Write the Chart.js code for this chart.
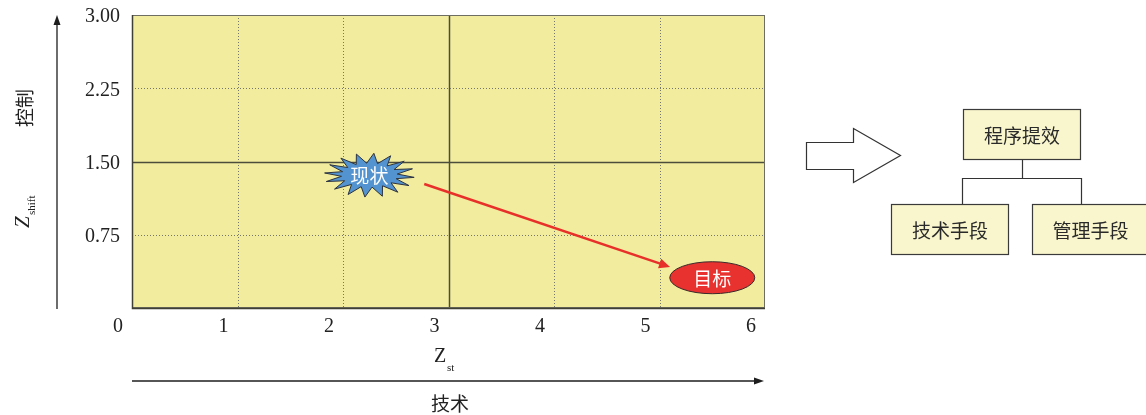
<!DOCTYPE html>
<html>
<head>
<meta charset="utf-8">
<script src="https://cdn.jsdelivr.net/npm/chart.js@4/dist/chart.umd.min.js"></script>
<style>
  html, body { margin: 0; padding: 0; background: #ffffff; }
  #wrap { width: 1146px; height: 415px; position: relative; }
</style>
</head>
<body>
<div id="wrap"><canvas id="c" width="1146" height="415"></canvas></div>
<script>
// Axis ranges and tick values
const xTicks = [0, 1, 2, 3, 4, 5, 6];
const yTicks = [0, 0.75, 1.5, 2.25, 3];
// Quadrant dividers (drawn solid)
const xDivider = 3;
const yDivider = 1.5;

// Current state and target state on the Z_st / Z_shift plane
const stateLabels = ['现状', '目标'];
const stateX = [2.25, 5.5];
const stateY = [1.36, 0.31];

// Improvement path (arrow from current toward target)
const pathX = [2.77, 5.10];
const pathY = [1.27, 0.42];

// Axis captions
const xAxisTitle = '技术';
const yAxisTitle = '控制';
const xSymbol = ['Z', 'st'];
const ySymbol = ['Z', 'shift'];

// Improvement approach tree
const treeRoot = '程序提效';
const treeLeaves = ['技术手段', '管理手段'];

const CJK = '"Noto Sans CJK SC", "Noto Sans", sans-serif';
const SERIF = '"Liberation Serif", "DejaVu Serif", serif';

function arrowHead(ctx, x1, y1, x2, y2, len, half, color) {
  const a = Math.atan2(y2 - y1, x2 - x1);
  ctx.save();
  ctx.fillStyle = color;
  ctx.beginPath();
  ctx.moveTo(x2, y2);
  ctx.lineTo(x2 - len * Math.cos(a) + half * Math.sin(a), y2 - len * Math.sin(a) - half * Math.cos(a));
  ctx.lineTo(x2 - len * Math.cos(a) - half * Math.sin(a), y2 - len * Math.sin(a) + half * Math.cos(a));
  ctx.closePath();
  ctx.fill();
  ctx.restore();
}

const backdrop = {
  id: 'backdrop',
  beforeDatasetsDraw(chart) {
    const { ctx, chartArea: a, scales: { x, y } } = chart;
    ctx.save();
    ctx.fillStyle = '#f1ec9e';
    ctx.fillRect(a.left, a.top, a.right - a.left, a.bottom - a.top);

    // interior grid lines
    xTicks.forEach(v => {
      if (v === xTicks[0] || v === xTicks[xTicks.length - 1]) return;
      const px = Math.round(x.getPixelForValue(v)) + 0.5;
      ctx.beginPath();
      if (v === xDivider) { ctx.setLineDash([]); ctx.strokeStyle = '#4d4d3c'; ctx.lineWidth = 1.5; }
      else { ctx.setLineDash([1, 2]); ctx.strokeStyle = '#77776a'; ctx.lineWidth = 1; }
      ctx.moveTo(px, a.top); ctx.lineTo(px, a.bottom); ctx.stroke();
    });
    yTicks.forEach(v => {
      if (v === yTicks[0] || v === yTicks[yTicks.length - 1]) return;
      const py = Math.round(y.getPixelForValue(v)) + 0.5;
      ctx.beginPath();
      if (Math.abs(v - yDivider) < 1e-9) { ctx.setLineDash([]); ctx.strokeStyle = '#4d4d3c'; ctx.lineWidth = 1.5; }
      else { ctx.setLineDash([1, 2]); ctx.strokeStyle = '#77776a'; ctx.lineWidth = 1; }
      ctx.moveTo(a.left, py); ctx.lineTo(a.right, py); ctx.stroke();
    });
    ctx.setLineDash([]);

    // frame
    ctx.strokeStyle = '#6e6e62';
    ctx.lineWidth = 1;
    ctx.strokeRect(a.left + 0.5, a.top + 0.5, a.right - a.left - 1, a.bottom - a.top - 1);
    ctx.strokeStyle = '#3f3f36';
    ctx.lineWidth = 1.5;
    ctx.beginPath();
    ctx.moveTo(a.left + 0.5, a.top); ctx.lineTo(a.left + 0.5, a.bottom + 0.5); ctx.lineTo(a.right, a.bottom + 0.5);
    ctx.stroke();
    ctx.restore();
  },
  afterDatasetsDraw(chart) {
    const { ctx, chartArea: a, scales: { x, y } } = chart;
    ctx.save();

    // improvement path
    const x1 = x.getPixelForValue(pathX[0]), y1 = y.getPixelForValue(pathY[0]);
    const x2 = x.getPixelForValue(pathX[1]), y2 = y.getPixelForValue(pathY[1]);
    const ang = Math.atan2(y2 - y1, x2 - x1);
    ctx.strokeStyle = '#e8302a';
    ctx.lineWidth = 2.5;
    ctx.beginPath();
    ctx.moveTo(x1, y1);
    ctx.lineTo(x2 - 8 * Math.cos(ang), y2 - 8 * Math.sin(ang));
    ctx.stroke();
    arrowHead(ctx, x1, y1, x2, y2, 11, 5, '#e8302a');

    // current state: starburst
    const sx = x.getPixelForValue(stateX[0]), sy = y.getPixelForValue(stateY[0]);
    const spikes = 16;
    ctx.beginPath();
    for (let i = 0; i < spikes * 2; i++) {
      const t = (i / (spikes * 2)) * Math.PI * 2 - Math.PI / 2 + 0.1;
      const outer = i % 2 === 0;
      const rx = outer ? 45 : 28, ry = outer ? 22 : 12;
      const px = sx + rx * Math.cos(t), py = sy + ry * Math.sin(t);
      if (i === 0) ctx.moveTo(px, py); else ctx.lineTo(px, py);
    }
    ctx.closePath();
    ctx.fillStyle = '#5393cf';
    ctx.fill();
    ctx.strokeStyle = '#2e3440';
    ctx.lineWidth = 1;
    ctx.stroke();
    ctx.fillStyle = '#ffffff';
    ctx.font = '19px ' + CJK;
    ctx.textAlign = 'center';
    ctx.textBaseline = 'middle';
    ctx.fillText(stateLabels[0], sx, sy + 1);

    // target state: ellipse
    const tx = x.getPixelForValue(stateX[1]), ty = y.getPixelForValue(stateY[1]);
    ctx.beginPath();
    ctx.ellipse(tx, ty, 42.5, 16, 0, 0, Math.PI * 2);
    ctx.fillStyle = '#e8322f';
    ctx.fill();
    ctx.strokeStyle = '#3a2a2a';
    ctx.lineWidth = 1;
    ctx.stroke();
    ctx.fillStyle = '#ffffff';
    ctx.fillText(stateLabels[1], tx, ty + 1);

    // axis direction arrows
    ctx.strokeStyle = '#1e1e1e';
    ctx.lineWidth = 1.3;
    ctx.beginPath();
    ctx.moveTo(57, a.bottom + 1); ctx.lineTo(57, a.top + 8); ctx.stroke();
    arrowHead(ctx, 57, a.bottom, 57, a.top, 10, 3.5, '#1e1e1e');
    ctx.beginPath();
    ctx.moveTo(a.left, 381); ctx.lineTo(a.right - 6, 381); ctx.stroke();
    arrowHead(ctx, a.left, 381, a.right - 1, 381, 10, 3.5, '#1e1e1e');

    // axis captions
    ctx.fillStyle = '#222222';
    ctx.textAlign = 'center';
    ctx.textBaseline = 'middle';
    ctx.font = '19px ' + CJK;
    ctx.fillText(xAxisTitle, 450, 404);
    ctx.font = '20px ' + SERIF;
    ctx.textAlign = 'left';
    ctx.textBaseline = 'alphabetic';
    ctx.fillText(xSymbol[0], 434, 362);
    ctx.font = '11px ' + SERIF;
    ctx.fillText(xSymbol[1], 447, 371);

    ctx.save();
    ctx.translate(25, 108);
    ctx.rotate(-Math.PI / 2);
    ctx.textAlign = 'center';
    ctx.textBaseline = 'middle';
    ctx.font = '19px ' + CJK;
    ctx.fillText(yAxisTitle, 0, 0);
    ctx.restore();

    ctx.save();
    ctx.translate(29, 228);
    ctx.rotate(-Math.PI / 2);
    ctx.textAlign = 'left';
    ctx.textBaseline = 'alphabetic';
    ctx.font = 'italic 21px ' + SERIF;
    ctx.fillText(ySymbol[0], 0, 0);
    ctx.font = '11px ' + SERIF;
    ctx.fillText(ySymbol[1], 13, 6);
    ctx.restore();

    // hollow block arrow
    ctx.beginPath();
    ctx.moveTo(806.5, 142.5);
    ctx.lineTo(853.5, 142.5);
    ctx.lineTo(853.5, 128.5);
    ctx.lineTo(900.5, 155.5);
    ctx.lineTo(853.5, 182.5);
    ctx.lineTo(853.5, 169.5);
    ctx.lineTo(806.5, 169.5);
    ctx.closePath();
    ctx.fillStyle = '#ffffff';
    ctx.fill();
    ctx.strokeStyle = '#333333';
    ctx.lineWidth = 1.2;
    ctx.stroke();

    // tree connectors
    ctx.beginPath();
    ctx.moveTo(1022.5, 160); ctx.lineTo(1022.5, 178.5);
    ctx.moveTo(962.5, 204); ctx.lineTo(962.5, 178.5); ctx.lineTo(1081.5, 178.5); ctx.lineTo(1081.5, 204);
    ctx.stroke();

    // tree boxes
    const boxes = [
      { text: treeRoot, x: 963.5, y: 109.5, w: 117, h: 50 },
      { text: treeLeaves[0], x: 891.5, y: 204.5, w: 117, h: 50 },
      { text: treeLeaves[1], x: 1032.5, y: 204.5, w: 116, h: 50 }
    ];
    boxes.forEach(b => {
      ctx.fillStyle = '#f9f6cd';
      ctx.fillRect(b.x, b.y, b.w, b.h);
      ctx.strokeStyle = '#3a3a3a';
      ctx.lineWidth = 1.2;
      ctx.strokeRect(b.x, b.y, b.w, b.h);
      ctx.fillStyle = '#2a2a2a';
      ctx.font = '19px ' + CJK;
      ctx.textAlign = 'center';
      ctx.textBaseline = 'middle';
      ctx.fillText(b.text, b.x + b.w / 2, b.y + b.h / 2 + 1);
    });

    ctx.restore();
  }
};

// fixed axis footprint so the plot area sits at a set place on the canvas
function fixVertical(s) {
  s.width = 132;
  s.paddingTop = 0; s.paddingBottom = 0;
}
function fixHorizontal(s) {
  s.height = 107;
  s.paddingLeft = 0; s.paddingRight = 0;
}

new Chart(document.getElementById('c'), {
  type: 'scatter',
  data: {
    labels: stateLabels,
    datasets: [{
      data: stateX.map((v, i) => ({ x: v, y: stateY[i] })),
      pointRadius: 0,
      pointHoverRadius: 0
    }]
  },
  options: {
    responsive: false,
    animation: false,
    devicePixelRatio: 1,
    layout: { padding: { top: 15, right: 381, bottom: 0, left: 0 } },
    plugins: { legend: { display: false }, tooltip: { enabled: false } },
    scales: {
      x: {
        type: 'linear',
        min: xTicks[0],
        max: xTicks[xTicks.length - 1],
        afterBuildTicks: s => { s.ticks = xTicks.map(v => ({ value: v })); },
        afterFit: fixHorizontal,
        ticks: {
          padding: 7,
          labelOffset: -14,
          maxRotation: 0,
          color: '#222222',
          font: { family: SERIF, size: 20 },
          callback: v => String(v)
        },
        grid: { display: false, drawTicks: false },
        border: { display: false }
      },
      y: {
        type: 'linear',
        min: yTicks[0],
        max: yTicks[yTicks.length - 1],
        afterBuildTicks: s => { s.ticks = yTicks.map(v => ({ value: v })); },
        afterFit: fixVertical,
        ticks: {
          padding: 12,
          labelOffset: 2,
          color: '#222222',
          font: { family: SERIF, size: 20 },
          callback: v => (v === 0 ? '' : Number(v).toFixed(2))
        },
        grid: { display: false, drawTicks: false },
        border: { display: false }
      }
    }
  },
  plugins: [backdrop]
});
</script>
</body>
</html>
